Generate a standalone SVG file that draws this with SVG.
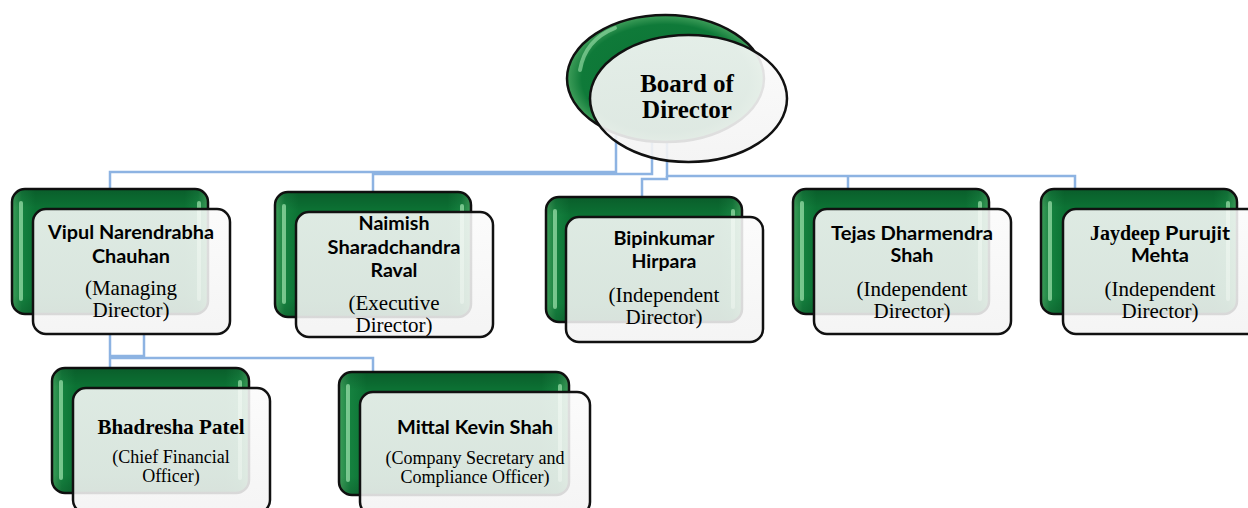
<svg xmlns="http://www.w3.org/2000/svg" width="1248" height="508" viewBox="0 0 1248 508">
<defs>
<linearGradient id="gBody" x1="0" y1="0" x2="1" y2="0">
<stop offset="0" stop-color="#3f9e5a"/>
<stop offset="0.05" stop-color="#15813f"/>
<stop offset="0.12" stop-color="#0c7234"/>
<stop offset="0.88" stop-color="#0c7234"/>
<stop offset="0.95" stop-color="#15813f"/>
<stop offset="1" stop-color="#3f9e5a"/>
</linearGradient>
<linearGradient id="gShade" x1="0" y1="0" x2="0" y2="1">
<stop offset="0" stop-color="#000" stop-opacity="0.18"/>
<stop offset="0.15" stop-color="#000" stop-opacity="0"/>
<stop offset="0.85" stop-color="#000" stop-opacity="0"/>
<stop offset="1" stop-color="#000" stop-opacity="0.15"/>
</linearGradient>
<linearGradient id="fGrad" x1="0" y1="0" x2="0" y2="1">
<stop offset="0" stop-color="#fbfbfb"/>
<stop offset="1" stop-color="#f3f3f3"/>
</linearGradient>
<radialGradient id="eGrad" cx="0.5" cy="0.5" r="0.5">
<stop offset="0" stop-color="#0c7234"/>
<stop offset="0.85" stop-color="#0f7a39"/>
<stop offset="1" stop-color="#3f9e5a"/>
</radialGradient>
</defs>
<style>
.back{fill:url(#gBody);stroke:#111;stroke-width:2.5}
.shade{fill:url(#gShade)}
.hl{fill:#9fe3ae;opacity:0.7}
.front{fill:url(#fGrad);fill-opacity:0.88;stroke:#111;stroke-width:2.5}
.conn{fill:none;stroke:#8db3e2;stroke-width:2.5}
.nm{font-family:Lato,"Open Sans","Liberation Sans",sans-serif;font-weight:bold;font-size:18px;fill:#000;text-anchor:middle}
.rl{font-family:"Liberation Serif","Times New Roman",serif;font-size:21px;fill:#000;text-anchor:middle}
.rs{font-family:"Liberation Serif","Times New Roman",serif;font-size:18px;fill:#000;text-anchor:middle}
.bd{font-family:"Liberation Serif","Times New Roman",serif;font-weight:bold;fill:#000;text-anchor:middle}
</style>
<rect width="1248" height="508" fill="#fff"/>
<g id="connectors">
<path class="conn" d="M616 135 V172 H110 V189"/>
<path class="conn" d="M652 140 V174 H373 V192"/>
<path class="conn" d="M667 140 V176 H1075 V189"/>
<path class="conn" d="M848 176 V189"/>
<path class="conn" d="M667 176 V179 H642 V197"/>
<path class="conn" d="M110 334 V368"/>
<path class="conn" d="M144 334 V356 H110"/>
<path class="conn" d="M110 358 H373 V372"/>
</g>
<g id="board">
<ellipse cx="665.5" cy="78.5" rx="98.5" ry="63.5" fill="url(#eGrad)" stroke="#111" stroke-width="2.5"/>
<path d="M580 70 Q585 40 615 28" fill="none" stroke="#9fe3ae" stroke-width="4" opacity="0.6" stroke-linecap="round"/>
<ellipse cx="688.5" cy="98.5" rx="98.5" ry="63.5" fill="url(#fGrad)" fill-opacity="0.9" stroke="#111" stroke-width="2.5"/>
<text class="bd" font-size="25" x="687" y="92">Board of</text>
<text class="bd" font-size="25" x="687" y="118">Director</text>
</g>
<g id="vipul">
<rect class="back" x="12" y="189" width="196" height="125" rx="13"/>
<rect class="shade" x="12" y="189" width="196" height="125" rx="13"/>
<rect class="hl" x="19" y="201" width="4" height="100" rx="2"/>
<rect class="hl" x="197" y="201" width="4" height="100" rx="2"/>
<rect class="front" x="33" y="209" width="197" height="125" rx="13"/>
<text class="nm" x="131" y="239" textLength="166" lengthAdjust="spacingAndGlyphs">Vipul Narendrabha</text>
<text class="nm" x="131" y="263" textLength="78" lengthAdjust="spacingAndGlyphs">Chauhan</text>
<text class="rl" x="131" y="295">(Managing</text>
<text class="rl" x="131" y="317">Director)</text>
</g>
<g id="naimish">
<rect class="back" x="275" y="192" width="196" height="125" rx="13"/>
<rect class="shade" x="275" y="192" width="196" height="125" rx="13"/>
<rect class="hl" x="282" y="204" width="4" height="100" rx="2"/>
<rect class="hl" x="460" y="204" width="4" height="100" rx="2"/>
<rect class="front" x="296" y="212" width="197" height="125" rx="13"/>
<text class="nm" x="394" y="230" textLength="71" lengthAdjust="spacingAndGlyphs">Naimish</text>
<text class="nm" x="394" y="254" textLength="133" lengthAdjust="spacingAndGlyphs">Sharadchandra</text>
<text class="nm" x="394" y="277" textLength="47" lengthAdjust="spacingAndGlyphs">Raval</text>
<text class="rl" x="394" y="310">(Executive</text>
<text class="rl" x="394" y="332">Director)</text>
</g>
<g id="bipinkumar">
<rect class="back" x="546" y="197" width="196" height="125" rx="13"/>
<rect class="shade" x="546" y="197" width="196" height="125" rx="13"/>
<rect class="hl" x="553" y="209" width="4" height="100" rx="2"/>
<rect class="hl" x="731" y="209" width="4" height="100" rx="2"/>
<rect class="front" x="566" y="217" width="197" height="125" rx="13"/>
<text class="nm" x="664" y="245" textLength="101" lengthAdjust="spacingAndGlyphs">Bipinkumar</text>
<text class="nm" x="664" y="268" textLength="65" lengthAdjust="spacingAndGlyphs">Hirpara</text>
<text class="rl" x="664" y="302">(Independent</text>
<text class="rl" x="664" y="324">Director)</text>
</g>
<g id="tejas">
<rect class="back" x="793" y="189" width="196" height="125" rx="13"/>
<rect class="shade" x="793" y="189" width="196" height="125" rx="13"/>
<rect class="hl" x="800" y="201" width="4" height="100" rx="2"/>
<rect class="hl" x="978" y="201" width="4" height="100" rx="2"/>
<rect class="front" x="814" y="209" width="197" height="125" rx="13"/>
<text class="nm" x="912" y="240" textLength="162" lengthAdjust="spacingAndGlyphs">Tejas Dharmendra</text>
<text class="nm" x="912" y="262" textLength="43" lengthAdjust="spacingAndGlyphs">Shah</text>
<text class="rl" x="912" y="296">(Independent</text>
<text class="rl" x="912" y="318">Director)</text>
</g>
<g id="jaydeep">
<rect class="back" x="1041" y="189" width="196" height="125" rx="13"/>
<rect class="shade" x="1041" y="189" width="196" height="125" rx="13"/>
<rect class="hl" x="1048" y="201" width="4" height="100" rx="2"/>
<rect class="hl" x="1226" y="201" width="4" height="100" rx="2"/>
<rect class="front" x="1063" y="209" width="197" height="125" rx="13"/>
<text y="240" fill="#000" font-weight="bold"><tspan x="1090" font-family="'Liberation Serif','Times New Roman',serif" font-size="20">Jaydeep</tspan><tspan x="1165" font-family="Lato,'Open Sans','Liberation Sans',sans-serif" font-size="18" textLength="65" lengthAdjust="spacingAndGlyphs">Purujit</tspan></text>
<text class="nm" x="1160" y="262" textLength="58" lengthAdjust="spacingAndGlyphs">Mehta</text>
<text class="rl" x="1160" y="296">(Independent</text>
<text class="rl" x="1160" y="318">Director)</text>
</g>
<g id="bhadresha">
<rect class="back" x="52" y="368" width="197" height="125" rx="13"/>
<rect class="shade" x="52" y="368" width="197" height="125" rx="13"/>
<rect class="hl" x="59" y="380" width="4" height="100" rx="2"/>
<rect class="hl" x="238" y="380" width="4" height="100" rx="2"/>
<rect class="front" x="73" y="388" width="197" height="125" rx="13"/>
<text class="bd" font-size="21" x="171" y="434">Bhadresha Patel</text>
<text class="rs" x="171" y="463">(Chief Financial</text>
<text class="rs" x="171" y="482">Officer)</text>
</g>
<g id="mittal">
<rect class="back" x="339" y="372" width="230" height="123" rx="13"/>
<rect class="shade" x="339" y="372" width="230" height="123" rx="13"/>
<rect class="hl" x="346" y="384" width="4" height="98" rx="2"/>
<rect class="hl" x="558" y="384" width="4" height="98" rx="2"/>
<rect class="front" x="360" y="392" width="230" height="123" rx="13"/>
<text class="nm" x="475" y="434" textLength="156" lengthAdjust="spacingAndGlyphs">Mittal Kevin Shah</text>
<text class="rs" x="475" y="464">(Company Secretary and</text>
<text class="rs" x="475" y="483">Compliance Officer)</text>
</g>
</svg>
